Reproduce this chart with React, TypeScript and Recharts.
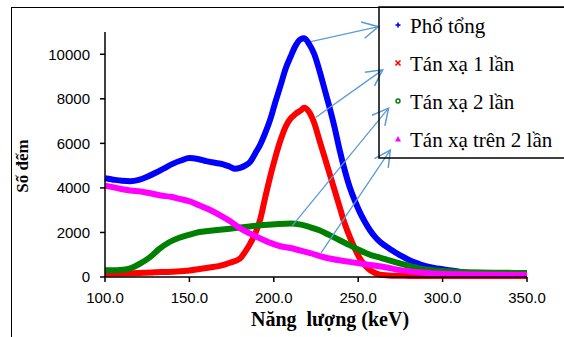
import React from 'react';
import { LineChart, Line, XAxis, YAxis, ReferenceLine } from 'recharts';

// ---- data ----
const totalEnergy = [100, 105, 110, 115, 120, 125, 130, 135, 140, 145, 150, 155, 160, 165, 170, 174, 177, 180, 183, 186, 189, 192, 195, 198, 201, 204, 207, 210, 213, 216, 218, 221, 224, 227, 230, 233, 236, 239, 242, 245, 248, 251, 254, 257, 260, 263, 266, 269, 272, 275, 280, 285, 290, 295, 300, 305, 310, 315, 320, 330, 340, 350];
const totalCounts = [4430, 4370, 4320, 4300, 4360, 4500, 4680, 4880, 5080, 5230, 5340, 5300, 5200, 5130, 5060, 4950, 4860, 4900, 5000, 5170, 5550, 5950, 6480, 7100, 7870, 8600, 9350, 9900, 10400, 10680, 10720, 10450, 10000, 9280, 8450, 7620, 6720, 5700, 4800, 4030, 3430, 2900, 2470, 2100, 1800, 1570, 1400, 1250, 1100, 970, 770, 610, 490, 410, 350, 290, 240, 190, 160, 120, 100, 90];

const singleEnergy = [100, 110, 120, 130, 140, 150, 156, 162, 168, 174, 180, 183, 186, 189, 192, 195, 198, 201, 204, 207, 210, 213, 216, 218, 221, 224, 227, 230, 233, 236, 239, 242, 245, 248, 251, 254, 257, 260, 263, 270, 280, 300, 350];
const singleCounts = [150, 160, 180, 210, 240, 290, 360, 430, 500, 640, 830, 1130, 1500, 1950, 2600, 3600, 4550, 5400, 6150, 6750, 7120, 7330, 7480, 7600, 7400, 6900, 6150, 5400, 4650, 3900, 3150, 2400, 1800, 1280, 830, 530, 310, 180, 100, 60, 50, 40, 40];

const doubleEnergy = [100, 105, 109, 115, 121, 127, 132, 138, 144, 150, 156, 165, 174, 183, 192, 201, 210, 216, 221, 227, 233, 239, 245, 251, 257, 263, 269, 275, 281, 286, 298, 310, 334, 350];
const doubleCounts = [300, 300, 310, 390, 610, 910, 1250, 1560, 1760, 1900, 2020, 2100, 2170, 2250, 2320, 2370, 2400, 2350, 2250, 2100, 1880, 1650, 1430, 1200, 1000, 870, 730, 600, 490, 390, 280, 220, 190, 180];

const multiEnergy = [100, 109, 115, 121, 127, 133, 139, 144, 150, 156, 162, 168, 174, 180, 186, 192, 198, 204, 210, 215, 221, 233, 245, 257, 266, 275, 286, 304, 350];
const multiCounts = [4100, 3960, 3880, 3840, 3760, 3660, 3600, 3510, 3400, 3210, 3020, 2780, 2510, 2190, 1950, 1730, 1530, 1380, 1300, 1200, 1080, 830, 680, 540, 440, 310, 210, 130, 90];

const seriesNames = ['Phổ tổng', 'Tán xạ 1 lần', 'Tán xạ 2 lần', 'Tán xạ trên 2 lần'];
const seriesColors = ['#0000FF', '#FF0000', '#008000', '#FF00FF'];
const xTicks = [100, 150, 200, 250, 300, 350];
const yTicks = [0, 2000, 4000, 6000, 8000, 10000];

// annotation arrows (data coordinates: energy, counts)
const arrowFrom = [[222, 10570], [225, 7170], [211, 2310], [228, 1080]];
const arrowTo = [[262, 11240], [264.5, 9300], [268, 7580], [269, 5700]];

const zip = (e: number[], c: number[]) => e.map((x, i) => ({ e: x, c: c[i] }));
const seriesData = [
  zip(totalEnergy, totalCounts),
  zip(singleEnergy, singleCounts),
  zip(doubleEnergy, doubleCounts),
  zip(multiEnergy, multiCounts),
];

const ARROW = '#5B9BD5';
const ArrowShape = (p: any) => {
  const { x1, y1, x2, y2 } = p;
  const ang = Math.atan2(y2 - y1, x2 - x1);
  const L = 18;
  const a = 0.48;
  const ax = x2 - L * Math.cos(ang - a);
  const ay = y2 - L * Math.sin(ang - a);
  const bx = x2 - L * Math.cos(ang + a);
  const by = y2 - L * Math.sin(ang + a);
  return (
    <g>
      <line x1={x1} y1={y1} x2={x2} y2={y2} stroke={ARROW} strokeWidth={1.3} />
      <polyline points={`${ax},${ay} ${x2},${y2} ${bx},${by}`} fill="none" stroke={ARROW} strokeWidth={1.5} />
    </g>
  );
};

const Marker = ({ i, x, y }: { i: number; x: number; y: number }) => {
  const c = seriesColors[i];
  if (i === 0)
    return (
      <g stroke={c} strokeWidth={1.6}>
        <line x1={x - 2.5} y1={y} x2={x + 2.5} y2={y} />
        <line x1={x} y1={y - 2.5} x2={x} y2={y + 2.5} />
      </g>
    );
  if (i === 1)
    return (
      <g stroke={c} strokeWidth={1.6}>
        <line x1={x - 2.5} y1={y - 2.5} x2={x + 2.5} y2={y + 2.5} />
        <line x1={x - 2.5} y1={y + 2.5} x2={x + 2.5} y2={y - 2.5} />
      </g>
    );
  if (i === 2) return <circle cx={x} cy={y} r={2} fill="none" stroke={c} strokeWidth={1.4} />;
  return <polygon points={`${x},${y - 3} ${x + 3},${y + 2.5} ${x - 3},${y + 2.5}`} fill={c} />;
};

const SERIF = 'Liberation Serif, Times New Roman, DejaVu Serif, serif';
const SANS = 'Liberation Sans, Arial, sans-serif';

export default function App() {
  return (
    <div style={{ position: 'absolute', left: 0, top: 0, width: 564, height: 337, background: '#fff', overflow: 'hidden' }}>
      <div
        style={{
          position: 'absolute',
          left: 11,
          top: 7,
          width: 700,
          height: 500,
          border: '1.5px solid #000',
        }}
      />
      <div style={{ position: 'absolute', left: 0, top: 0 }}>
        <LineChart width={564} height={337} margin={{ top: 32, right: 37, bottom: 30, left: 45 }}>
          <XAxis
            dataKey="e"
            type="number"
            domain={[100, 350]}
            ticks={xTicks}
            allowDuplicatedCategory={false}
            tickFormatter={(v: number) => v.toFixed(1)}
            stroke="#000"
            strokeWidth={1.5}
            tickSize={5}
            tickMargin={10}
            height={30}
            tick={{ fill: '#000', fontSize: 15, fontFamily: SANS }}
            label={() => (
              <text x={330} y={326} textAnchor="middle" style={{ fontFamily: SERIF, fontWeight: 'bold', fontSize: 20, whiteSpace: 'pre' }} fill="#000">
                Năng  lượng (keV)
              </text>
            )}
          />
          <YAxis
            type="number"
            domain={[0, 11000]}
            ticks={yTicks}
            stroke="#000"
            strokeWidth={1.5}
            tickSize={5}
            tickMargin={10}
            width={60}
            tick={{ fill: '#000', fontSize: 15, fontFamily: SANS }}
            label={() => (
              <text x={28} y={166} transform="rotate(-90 28 166)" textAnchor="middle" style={{ fontFamily: SERIF, fontWeight: 'bold', fontSize: 17 }} fill="#000">
                Số đếm
              </text>
            )}
          />
          {seriesData.map((d, i) => (
            <Line
              key={seriesNames[i]}
              data={d}
              dataKey="c"
              name={seriesNames[i]}
              type="monotone"
              stroke={seriesColors[i]}
              strokeWidth={6}
              dot={false}
              activeDot={false}
              isAnimationActive={false}
            />
          ))}
          {arrowFrom.map((f, i) => (
            <ReferenceLine
              key={'arrow' + i}
              segment={[
                { x: f[0], y: f[1] },
                { x: arrowTo[i][0], y: arrowTo[i][1] },
              ]}
              ifOverflow="visible"
              shape={ArrowShape}
            />
          ))}
        </LineChart>
      </div>
      <svg width={564} height={337} style={{ position: 'absolute', left: 0, top: 0, pointerEvents: 'none' }}>
        <rect x={379} y={7} width={300} height={151} fill="none" stroke="#000" strokeWidth={1.5} />
        {seriesNames.map((n, i) => (
          <g key={n}>
            <Marker i={i} x={398} y={25 + i * 38} />
            <text x={410} y={33 + i * 38} style={{ fontFamily: SERIF, fontSize: 21 }} fill="#000">
              {n}
            </text>
          </g>
        ))}
      </svg>
    </div>
  );
}
